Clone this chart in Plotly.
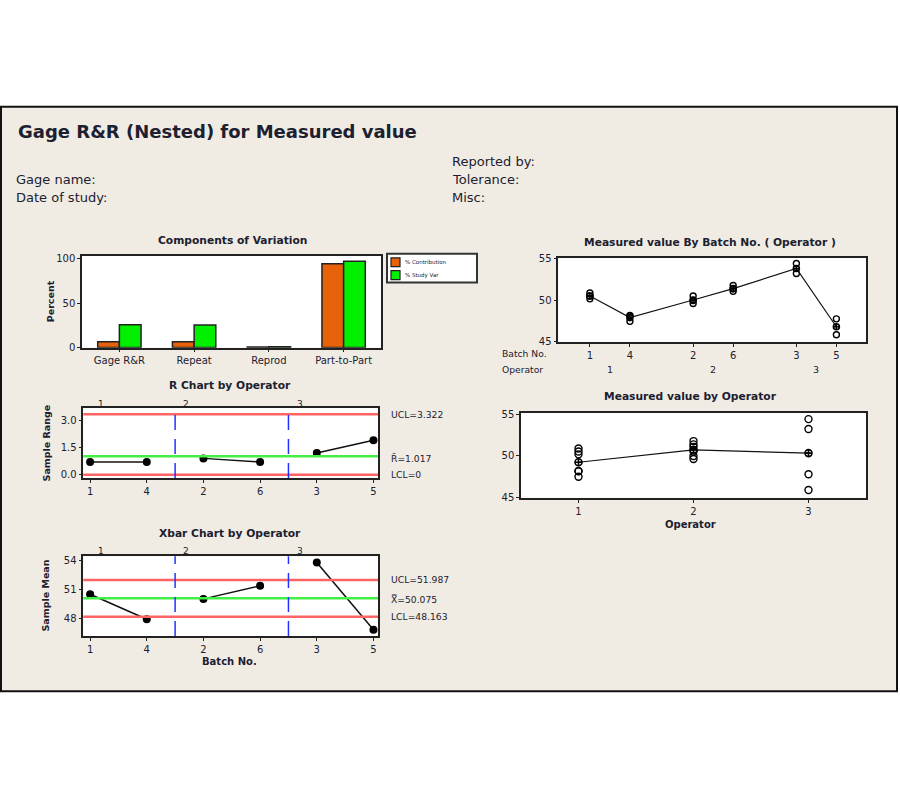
import plotly.graph_objects as go

# ---------------- data ----------------
components = ["Gage R&R", "Repeat", "Reprod", "Part-to-Part"]
pct_contribution = [6.5, 6.5, 0.4, 94.5]
pct_study_var = [25.5, 25.4, 0.8, 97.5]
series_names = ["% Contribution", "% Study Var"]

batches = ["1", "4", "2", "6", "3", "5"]
batch_operator = ["1", "1", "2", "2", "3", "3"]
op_names = ["1", "2", "3"]
measurements = [
    [50.15, 50.5, 50.85],
    [47.45, 48.15, 48.1],
    [49.6, 49.95, 50.5],
    [51.05, 51.35, 51.75],
    [53.2, 54.4],
    [45.85, 47.75],
]
r_ucl, r_bar, r_lcl = 3.322, 1.017, 0.0
x_ucl, x_bar, x_lcl = 51.987, 50.075, 48.163

# ---------------- derived ----------------
ranges = [max(m) - min(m) for m in measurements]
means = [sum(m) / len(m) for m in measurements]
idx = list(range(len(batches)))
op_idx = [op_names.index(o) for o in batch_operator]
GROUP_GAP = 0.58
bpos = [i + op_idx[i] * GROUP_GAP for i in idx]

W, H = 900, 800
def dx(a, b):
    return [a / W, b / W]
def dy(top, bottom):
    return [1 - bottom / H, 1 - top / H]
def px(x):
    return x / W
def py(y):
    return 1 - y / H

FONT = "DejaVu Sans"
TXT = "#1c2030"
BEIGE = "#F0ECE3"
ORANGE = "#E8620A"
GREEN_BAR = "#00F000"

fig = go.Figure()

# Components of variation
for name, vals, col in [(series_names[0], pct_contribution, ORANGE),
                        (series_names[1], pct_study_var, GREEN_BAR)]:
    fig.add_trace(go.Bar(x=components, y=vals, name=name, showlegend=False,
                         marker=dict(color=col, line=dict(color="#222", width=1.5)),
                         xaxis="x", yaxis="y"))

def grouped(xs, ys):
    ox, oy = [], []
    for i in idx:
        if i > 0 and op_idx[i] != op_idx[i - 1]:
            ox.append(None); oy.append(None)
        ox.append(xs[i]); oy.append(ys[i])
    return ox, oy

# R chart
gx, gy = grouped(idx, ranges)
fig.add_trace(go.Scatter(x=gx, y=gy, mode="lines+markers", showlegend=False,
                         line=dict(color="#111", width=1.5),
                         marker=dict(color="#000", size=8),
                         xaxis="x2", yaxis="y2"))
# Xbar chart
gx, gy = grouped(idx, means)
fig.add_trace(go.Scatter(x=gx, y=gy, mode="lines+markers", showlegend=False,
                         line=dict(color="#111", width=1.5),
                         marker=dict(color="#000", size=8),
                         xaxis="x3", yaxis="y3"))

# By batch (operator)
ix, iy = [], []
for i, m in enumerate(measurements):
    for v in m:
        ix.append(bpos[i]); iy.append(v)
fig.add_trace(go.Scatter(x=ix, y=iy, mode="markers", showlegend=False,
                         marker=dict(symbol="circle-open", color="#000", size=6,
                                     line=dict(width=1.4)),
                         xaxis="x4", yaxis="y4"))
fig.add_trace(go.Scatter(x=bpos, y=means, mode="lines+markers", showlegend=False,
                         line=dict(color="#111", width=1.2),
                         marker=dict(symbol="circle-cross-open", color="#000", size=6,
                                     line=dict(width=1.6)),
                         xaxis="x4", yaxis="y4"))

# By operator
ox, oy = [], []
op_vals = {o: [] for o in op_names}
for i, m in enumerate(measurements):
    for v in m:
        ox.append(op_idx[i] + 1); oy.append(v)
        op_vals[batch_operator[i]].append(v)
op_means = [sum(op_vals[o]) / len(op_vals[o]) for o in op_names]
fig.add_trace(go.Scatter(x=ox, y=oy, mode="markers", showlegend=False,
                         marker=dict(symbol="circle-open", color="#000", size=7,
                                     line=dict(width=1.4)),
                         xaxis="x5", yaxis="y5"))
fig.add_trace(go.Scatter(x=[k + 1 for k in range(len(op_names))], y=op_means,
                         mode="lines+markers", showlegend=False,
                         line=dict(color="#111", width=1.2),
                         marker=dict(symbol="circle-cross-open", color="#000", size=7,
                                     line=dict(width=1.6)),
                         xaxis="x5", yaxis="y5"))

axis_common = dict(showline=True, mirror=True, linecolor="#222", linewidth=1.5,
                   ticks="outside", ticklen=3, tickwidth=1, tickcolor="#222",
                   showgrid=False, zeroline=False,
                   tickfont=dict(family=FONT, size=10, color=TXT))

shapes = []
annotations = []

# outside white areas and frame
shapes += [
    dict(type="rect", xref="paper", yref="paper", x0=-0.05, x1=1.05, y0=py(103), y1=1.05,
         fillcolor="white", line=dict(width=0), layer="below"),
    dict(type="rect", xref="paper", yref="paper", x0=-0.05, x1=1.05, y0=-0.05, y1=py(695),
         fillcolor="white", line=dict(width=0), layer="below"),
    dict(type="rect", xref="paper", yref="paper", x0=px(897), x1=1.05, y0=-0.05, y1=1.05,
         fillcolor="white", line=dict(width=0), layer="below"),
    dict(type="rect", xref="paper", yref="paper", x0=px(1), x1=px(897), y0=py(695), y1=py(103),
         line=dict(color="#111", width=2), layer="below"),
]

def limit_line(xa, ya, val, color, width):
    return dict(type="line", xref=f"{xa} domain", yref=ya, x0=0, x1=1, y0=val, y1=val,
                line=dict(color=color, width=width))

RED = "#FF6464"
GREEN = "#44EE44"
for xa, ya, vals in [("x2", "y2", (r_ucl, r_bar, r_lcl)), ("x3", "y3", (x_ucl, x_bar, x_lcl))]:
    shapes.append(limit_line(xa, ya, vals[0], RED, 2.5))
    shapes.append(limit_line(xa, ya, vals[1], GREEN, 2.5))
    shapes.append(limit_line(xa, ya, vals[2], RED, 2.5))
    for i in idx[1:]:
        if op_idx[i] != op_idx[i - 1]:
            shapes.append(dict(type="line", xref=xa, yref=f"{ya} domain", x0=i - 0.5, x1=i - 0.5,
                               y0=0, y1=1, line=dict(color="#2233FF", width=1.5, dash="15px,9px")))

def ann(x, y, text, size=9, bold=False, xanchor="center", xref="paper", yref="paper",
        angle=0, yshift=0):
    annotations.append(dict(x=x, y=y, xref=xref, yref=yref, text=f"<b>{text}</b>" if bold else text,
                            showarrow=False, xanchor=xanchor, yanchor="middle", textangle=angle,
                            yshift=yshift, font=dict(family=FONT, size=size, color=TXT)))

# custom compact legend
shapes.append(dict(type="rect", xref="paper", yref="paper", x0=px(387), x1=px(477),
                   y0=py(281), y1=py(252), fillcolor="white",
                   line=dict(color="#333", width=2)))
for k, (name, col) in enumerate(zip(series_names, [ORANGE, GREEN_BAR])):
    top = 256 + k * 13
    shapes.append(dict(type="rect", xref="paper", yref="paper", x0=px(391), x1=px(400),
                       y0=py(top + 9), y1=py(top), fillcolor=col,
                       line=dict(color="#222", width=1.2)))
    ann(px(403), py(top + 4.5), name, size=5.5, xanchor="left")

# header
ann(px(16), py(128), "Gage R&R (Nested) for Measured value", size=18, bold=True, xanchor="left")
ann(px(14), py(177), "Gage name:", size=13, xanchor="left")
ann(px(14), py(195), "Date of study:", size=13, xanchor="left")
ann(px(450), py(158), "Reported by:", size=13, xanchor="left")
ann(px(450), py(177), "Tolerance:", size=13, xanchor="left")
ann(px(450), py(195), "Misc:", size=13, xanchor="left")

# panel titles
ann(px(232), py(238), "Components of Variation", size=10.7, bold=True)
ann(px(230), py(385), "R Chart by Operator", size=10.7, bold=True)
ann(px(230), py(535), "Xbar Chart by Operator", size=10.7, bold=True)
ann(px(710), py(240), "Measured value By Batch No. ( Operator )", size=10.7, bold=True)
ann(px(690), py(396), "Measured value by Operator", size=10.7, bold=True)

# axis titles
ann(px(50), py(300), "Percent", size=9.5, bold=True, angle=-90)
ann(px(46), py(444), "Sample Range", size=9.5, bold=True, angle=-90)
ann(px(46), py(598), "Sample Mean", size=9.5, bold=True, angle=-90)
ann(px(230), py(665), "Batch No.", size=10, bold=True)
ann(px(690), py(526), "Operator", size=10, bold=True)

# control limit labels
ann(px(389), r_ucl, f"UCL={r_ucl:.3f}", size=9.2, xanchor="left", yref="y2")
ann(px(389), r_bar, f"R\u0304={r_bar:.3f}", size=9.2, xanchor="left", yref="y2", yshift=-2)
ann(px(389), r_lcl, f"LCL={r_lcl:g}", size=9.2, xanchor="left", yref="y2")
ann(px(389), x_ucl, f"UCL={x_ucl:.3f}", size=9.2, xanchor="left", yref="y3")
ann(px(389), x_bar, f"X\u033F={x_bar:.3f}", size=9.2, xanchor="left", yref="y3", yshift=-1)
ann(px(389), x_lcl, f"LCL={x_lcl:.3f}", size=9.2, xanchor="left", yref="y3")

# operator labels above R / Xbar charts
op_label_x = [0.19, 1.7, 3.7]
for k, o in enumerate(op_names):
    ann(op_label_x[k], py(404), o, size=9, xref="x2")
    ann(op_label_x[k], py(553), o, size=9, xref="x3")

# batch chart rows
ann(px(500), py(353), "Batch No.", size=9.2, xanchor="left")
ann(px(500), py(369), "Operator", size=9.2, xanchor="left")
for k, o in enumerate(op_names):
    ps = [bpos[i] for i in idx if op_idx[i] == k]
    ann(sum(ps) / len(ps), py(369), o, size=9.5, xref="x4")

fig.update_layout(
    width=W, height=H, margin=dict(l=0, r=0, t=0, b=0),
    paper_bgcolor=BEIGE, plot_bgcolor="white",
    font=dict(family=FONT, size=9, color=TXT),
    bargap=0.42, bargroupgap=0,
    showlegend=False,
    xaxis=dict(domain=dx(82, 381), anchor="y", type="category", **axis_common),
    yaxis=dict(domain=dy(254, 347), anchor="x", range=[-0.3, 103.5],
               tickvals=[0, 50, 100], **axis_common),
    xaxis2=dict(domain=dx(83.3, 378), anchor="y2", range=[-0.12, 5.08],
                tickvals=idx, ticktext=batches, **axis_common),
    yaxis2=dict(domain=dy(408.3, 479), anchor="x2", range=[-0.18, 3.66],
                tickvals=[0, 1.5, 3.0], tickformat=".1f", **axis_common),
    xaxis3=dict(domain=dx(83.3, 378), anchor="y3", range=[-0.12, 5.08],
                tickvals=idx, ticktext=batches, **axis_common),
    yaxis3=dict(domain=dy(558.3, 639), anchor="x3", range=[46.15, 54.45],
                tickvals=[48, 51, 54], **axis_common),
    xaxis4=dict(domain=dx(558.3, 866), anchor="y4", range=[-0.79, 6.9],
                tickvals=bpos, ticktext=batches, **axis_common),
    yaxis4=dict(domain=dy(256, 341.7), anchor="x4", range=[44.92, 55.08],
                tickvals=[45, 50, 55], **axis_common),
    xaxis5=dict(domain=dx(521, 866), anchor="y5", range=[0.5, 3.5],
                tickvals=[1, 2, 3], ticktext=op_names, **axis_common),
    yaxis5=dict(domain=dy(413.3, 499), anchor="x5", range=[44.92, 55.12],
                tickvals=[45, 50, 55], **axis_common),
    shapes=shapes, annotations=annotations,
)

fig.write_html("out.html", config={"displayModeBar": False},
               post_script="document.body.style.margin='0';document.body.style.overflow='hidden';")
